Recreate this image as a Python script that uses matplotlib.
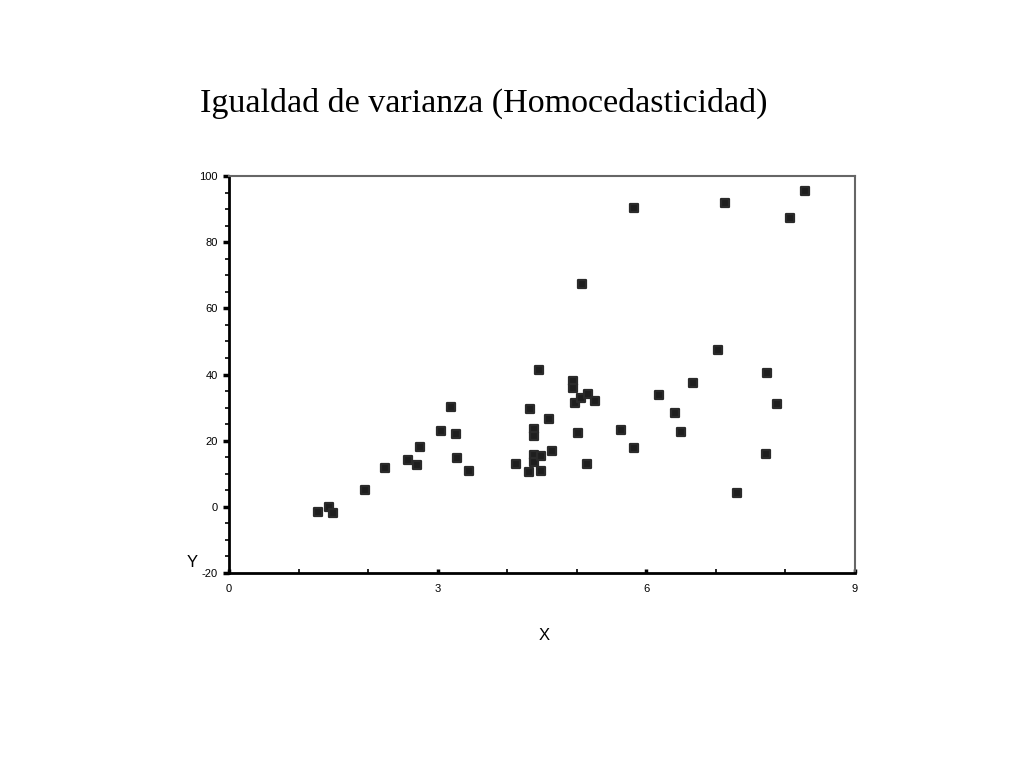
import numpy as np
import matplotlib.pyplot as plt
from matplotlib.ticker import MultipleLocator

plt.rcParams['axes.unicode_minus'] = False

# puntos (x, y)
x = [1.28, 1.44, 1.50, 1.96, 2.24, 2.57, 2.70, 2.75, 3.05, 3.19, 3.26, 3.28, 3.45,
     4.13, 4.31, 4.33, 4.38, 4.38, 4.38, 4.38, 4.46, 4.49, 4.49, 4.60, 4.64,
     4.95, 4.95, 4.97, 5.02, 5.06, 5.07, 5.15, 5.16, 5.26, 5.64, 5.82, 5.82,
     6.18, 6.41, 6.50, 6.67, 7.03, 7.13, 7.30, 7.72, 7.73, 7.88, 8.07, 8.28]
y = [-1.5, 0.0, -1.8, 5.2, 11.8, 14.2, 12.7, 18.2, 23.0, 30.3, 22.1, 14.8, 10.9,
     13.0, 10.6, 29.7, 23.6, 21.5, 15.8, 13.6, 41.5, 15.5, 10.9, 26.7, 17.0,
     37.9, 36.0, 31.5, 22.4, 33.0, 67.3, 13.0, 34.2, 32.1, 23.3, 90.3, 17.9,
     33.9, 28.5, 22.7, 37.3, 47.3, 91.8, 4.2, 16.1, 40.6, 31.2, 87.3, 95.5]

titulo = "Igualdad de varianza (Homocedasticidad)"

fig = plt.figure(figsize=(10.24, 7.68), dpi=100)
fig.text(0.195, 0.865, titulo, fontsize=24.5, family='Liberation Serif', ha='left', va='center')

ax = fig.add_axes([0.2236, 0.2539, 0.6113, 0.5169])
sc = ax.scatter(x, y, marker='s', s=26, color='#1e1e1e', edgecolors='#2a2a2a', linewidths=1.6, zorder=3)
sc.set_joinstyle('round')

ax.set_xlim(0, 9)
ax.set_ylim(-20, 100)
ax.xaxis.set_major_locator(MultipleLocator(3))
ax.xaxis.set_minor_locator(MultipleLocator(1))
ax.yaxis.set_major_locator(MultipleLocator(20))
ax.yaxis.set_minor_locator(MultipleLocator(5))

for s in ['left', 'bottom']:
    ax.spines[s].set_linewidth(2)
    ax.spines[s].set_color('black')
for s in ['top', 'right']:
    ax.spines[s].set_linewidth(1.5)
    ax.spines[s].set_color('#666666')

ax.tick_params(axis='y', which='major', direction='out', length=4, width=2.5, pad=4,
               labelsize=8, labelfontfamily='Liberation Sans')
ax.tick_params(axis='y', which='minor', direction='out', length=3, width=1.2)
ax.tick_params(axis='x', which='major', direction='in', length=3, width=2.5, pad=8,
               labelsize=8, labelfontfamily='Liberation Sans')
ax.tick_params(axis='x', which='minor', direction='in', length=3, width=1.2)

fig.text(0.188, 0.268, "Y", fontsize=12, family='Liberation Sans', ha='center', va='center')
fig.text(0.531, 0.172, "X", fontsize=12, family='Liberation Sans', ha='center', va='center')

fig.savefig('out.png', dpi=100)
